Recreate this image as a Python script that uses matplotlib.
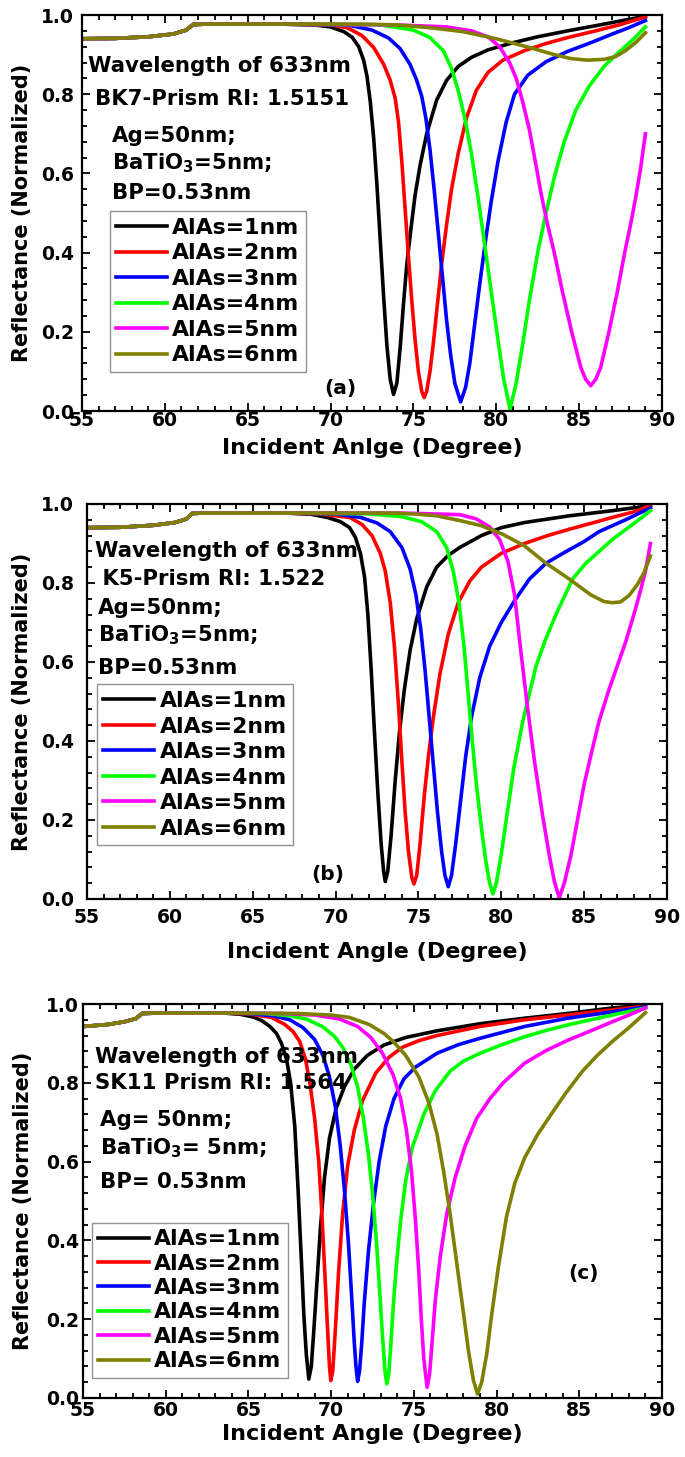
import matplotlib
matplotlib.use('Agg')
import matplotlib.pyplot as plt
from matplotlib.ticker import MultipleLocator, FormatStrFormatter

plt.rcParams['font.family'] = ['DejaVu Sans']
plt.rcParams['font.weight'] = 'bold'
plt.rcParams['axes.labelweight'] = 'bold'
plt.rcParams['mathtext.fontset'] = 'dejavusans'

# Legend labels and line colours
labels = ['AlAs=1nm', 'AlAs=2nm', 'AlAs=3nm', 'AlAs=4nm', 'AlAs=5nm', 'AlAs=6nm']
colors = ['#000000', '#ff0000', '#0000ff', '#00ff00', '#ff00ff', '#808000']

# ---------- panel (a): BK7 prism ----------
a_base_ang = [55, 57, 59, 60.5, 61.3, 61.7, 62.5, 65]
a_base_ref = [0.940, 0.941, 0.945, 0.952, 0.962, 0.976, 0.977, 0.977]

a1_ang = [67, 69, 70, 70.8, 71.3, 71.7, 72.0, 72.2, 72.4, 72.6, 72.8, 73.0, 73.2, 73.4, 73.6, 73.8, 74.0, 74.2, 74.4, 74.6, 74.85, 75.1, 75.4, 75.8, 76.4, 77.0, 77.7, 78.5, 79.5, 81.0, 82.5, 84.3, 86.0, 87.5, 89.0]
a1_ref = [0.977, 0.975, 0.970, 0.958, 0.944, 0.920, 0.885, 0.845, 0.780, 0.690, 0.570, 0.430, 0.290, 0.165, 0.080, 0.042, 0.070, 0.160, 0.270, 0.370, 0.460, 0.545, 0.620, 0.700, 0.785, 0.835, 0.870, 0.893, 0.912, 0.930, 0.945, 0.960, 0.973, 0.985, 0.997]
a2_ang = [67, 70, 71.0, 71.9, 72.6, 73.2, 73.6, 73.9, 74.1, 74.3, 74.5, 74.7, 74.9, 75.1, 75.3, 75.5, 75.65, 75.8, 76.0, 76.2, 76.45, 76.7, 77.0, 77.3, 77.7, 78.2, 78.8, 79.5, 80.4, 81.7, 83.0, 84.3, 86.0, 87.5, 89.0]
a2_ref = [0.977, 0.975, 0.968, 0.948, 0.918, 0.876, 0.835, 0.790, 0.730, 0.630, 0.510, 0.390, 0.280, 0.180, 0.100, 0.050, 0.034, 0.050, 0.100, 0.170, 0.270, 0.370, 0.470, 0.560, 0.650, 0.740, 0.810, 0.855, 0.886, 0.910, 0.928, 0.943, 0.960, 0.976, 0.995]
a3_ang = [67, 71, 72.5, 73.5, 74.2, 74.8, 75.2, 75.5, 75.75, 76.0, 76.25, 76.5, 76.75, 77.0, 77.25, 77.5, 77.85, 78.15, 78.4, 78.7, 79.0, 79.35, 79.7, 80.1, 80.6, 81.1, 81.9, 83.0, 84.3, 85.7, 87.0, 88.0, 89.0]
a3_ref = [0.977, 0.975, 0.962, 0.942, 0.915, 0.875, 0.835, 0.795, 0.740, 0.660, 0.560, 0.450, 0.340, 0.230, 0.140, 0.070, 0.023, 0.060, 0.120, 0.220, 0.320, 0.430, 0.530, 0.630, 0.730, 0.800, 0.848, 0.882, 0.908, 0.930, 0.952, 0.968, 0.986]
a4_ang = [67, 73, 75.0, 76.0, 76.8, 77.3, 77.7, 78.1, 78.5, 78.9, 79.3, 79.7, 80.1, 80.45, 80.83, 81.2, 81.6, 82.0, 82.5, 83.0, 83.5, 84.1, 84.8, 85.6, 86.5, 87.5, 88.3, 89.0]
a4_ref = [0.977, 0.975, 0.962, 0.943, 0.910, 0.865, 0.810, 0.740, 0.650, 0.540, 0.420, 0.300, 0.180, 0.080, 0.005, 0.070, 0.170, 0.280, 0.400, 0.500, 0.590, 0.680, 0.760, 0.820, 0.870, 0.910, 0.940, 0.970]
a5_ang = [67, 74, 77, 78.5, 79.5, 80.2, 80.8, 81.2, 81.6, 82.0, 82.4, 82.7, 83.1, 83.5, 84.0, 84.55, 85.1, 85.4, 85.7, 86.0, 86.3, 86.8, 87.3, 87.75, 88.1, 88.4, 88.7, 89.0]
a5_ref = [0.977, 0.975, 0.970, 0.960, 0.945, 0.920, 0.880, 0.840, 0.780, 0.710, 0.620, 0.550, 0.470, 0.400, 0.300, 0.200, 0.110, 0.080, 0.064, 0.080, 0.110, 0.200, 0.300, 0.400, 0.470, 0.536, 0.610, 0.700]
a6_ang = [67, 72, 74, 76, 78, 80, 82, 83.5, 84.5, 85.5, 86.5, 87.2, 87.8, 88.4, 89.0]
a6_ref = [0.977, 0.977, 0.975, 0.968, 0.958, 0.940, 0.918, 0.900, 0.890, 0.886, 0.888, 0.895, 0.910, 0.930, 0.955]

# ---------- panel (b): K5 prism ----------
b_base_ang = [55, 57, 59, 60.3, 61.0, 61.34, 62.0, 65.0]
b_base_ref = [0.940, 0.941, 0.946, 0.953, 0.962, 0.976, 0.977, 0.977]

b1_ang = [67, 68.5, 69.5, 70.3, 70.85, 71.2, 71.5, 71.75, 71.95, 72.15, 72.35, 72.55, 72.75, 72.9, 73.0, 73.15, 73.35, 73.6, 73.85, 74.15, 74.5, 74.9, 75.5, 76.1, 76.8, 77.5, 78.8, 80.0, 81.4, 84.1, 86.7, 89.0]
b1_ref = [0.977, 0.974, 0.966, 0.955, 0.940, 0.915, 0.875, 0.815, 0.720, 0.580, 0.420, 0.270, 0.140, 0.070, 0.044, 0.070, 0.160, 0.300, 0.420, 0.530, 0.630, 0.710, 0.790, 0.840, 0.870, 0.890, 0.920, 0.940, 0.953, 0.970, 0.983, 0.996]
b2_ang = [67, 69, 70.85, 71.6, 72.2, 72.7, 73.0, 73.3, 73.55, 73.8, 74.0, 74.2, 74.4, 74.6, 74.73, 74.9, 75.1, 75.35, 75.6, 75.9, 76.3, 76.8, 77.4, 78.1, 78.8, 80.0, 81.4, 82.8, 84.1, 85.5, 86.7, 88.0, 89.0]
b2_ref = [0.977, 0.975, 0.966, 0.948, 0.920, 0.875, 0.830, 0.750, 0.640, 0.490, 0.350, 0.220, 0.120, 0.055, 0.038, 0.060, 0.140, 0.260, 0.360, 0.460, 0.570, 0.670, 0.750, 0.805, 0.840, 0.875, 0.900, 0.920, 0.936, 0.952, 0.966, 0.980, 0.996]
b3_ang = [67, 70, 71.5, 72.5, 73.3, 74.0, 74.5, 74.85, 75.15, 75.4, 75.65, 75.9, 76.15, 76.4, 76.6, 76.8, 77.0, 77.25, 77.55, 77.85, 78.2, 78.7, 79.3, 80.0, 80.8, 81.7, 82.7, 83.8, 85.0, 85.9, 87.5, 89.0]
b3_ref = [0.977, 0.975, 0.966, 0.952, 0.930, 0.890, 0.835, 0.770, 0.680, 0.580, 0.460, 0.340, 0.220, 0.120, 0.060, 0.031, 0.060, 0.140, 0.250, 0.360, 0.460, 0.560, 0.640, 0.700, 0.755, 0.810, 0.850, 0.877, 0.905, 0.930, 0.960, 0.990]
b4_ang = [67, 72, 74, 75.2, 76.1, 76.7, 77.1, 77.45, 77.75, 78.0, 78.25, 78.5, 78.8, 79.05, 79.3, 79.5, 79.7, 79.95, 80.3, 80.75, 81.3, 82.1, 82.7, 83.3, 84.3, 85.1, 85.9, 86.7, 87.5, 88.3, 89.0]
b4_ref = [0.977, 0.975, 0.968, 0.955, 0.930, 0.890, 0.830, 0.750, 0.640, 0.520, 0.400, 0.290, 0.180, 0.100, 0.040, 0.013, 0.040, 0.100, 0.200, 0.330, 0.450, 0.590, 0.660, 0.720, 0.810, 0.850, 0.880, 0.910, 0.935, 0.960, 0.983]
b5_ang = [67, 74, 77.5, 78.5, 79.3, 79.9, 80.4, 80.8, 81.2, 81.6, 82.0, 82.5, 82.9, 83.2, 83.5, 83.8, 84.2, 84.6, 85.0, 85.5, 85.9, 86.5, 87.0, 87.5, 88.0, 88.4, 88.7, 89.0]
b5_ref = [0.977, 0.977, 0.973, 0.962, 0.942, 0.910, 0.855, 0.770, 0.620, 0.480, 0.350, 0.210, 0.110, 0.045, 0.003, 0.040, 0.110, 0.200, 0.290, 0.380, 0.450, 0.530, 0.590, 0.650, 0.720, 0.780, 0.830, 0.900]
b6_ang = [67, 73.5, 75, 76.1, 77.5, 78.8, 80.1, 81.4, 82.7, 84.1, 85.4, 86.2, 86.7, 87.2, 87.7, 88.2, 88.6, 89.0]
b6_ref = [0.977, 0.977, 0.974, 0.970, 0.958, 0.945, 0.923, 0.894, 0.850, 0.810, 0.770, 0.753, 0.750, 0.752, 0.768, 0.795, 0.825, 0.868]

# ---------- panel (c): SK11 prism ----------
c_base_ang = [55, 56.5, 57.5, 58.2, 58.57, 59.5, 62.0]
c_base_ref = [0.943, 0.948, 0.955, 0.963, 0.976, 0.977, 0.977]

c1_ang = [63.5, 64.5, 65.3, 65.8, 66.3, 66.7, 67.0, 67.3, 67.55, 67.8, 68.0, 68.2, 68.35, 68.5, 68.65, 68.8, 68.95, 69.15, 69.35, 69.6, 69.9, 70.3, 70.8, 71.4, 72.2, 73.2, 74.5, 76.4, 79.0, 81.7, 84.3, 87.0, 89.0]
c1_ref = [0.977, 0.974, 0.967, 0.958, 0.943, 0.925, 0.900, 0.860, 0.800, 0.690, 0.530, 0.350, 0.210, 0.110, 0.048, 0.080, 0.170, 0.300, 0.430, 0.560, 0.660, 0.735, 0.790, 0.835, 0.870, 0.896, 0.915, 0.932, 0.950, 0.964, 0.976, 0.990, 0.997]
c2_ang = [63.5, 65.0, 66.4, 67.2, 67.7, 68.1, 68.45, 68.75, 69.0, 69.25, 69.45, 69.65, 69.8, 69.9, 69.98, 70.1, 70.25, 70.45, 70.7, 71.0, 71.4, 71.9, 72.7, 73.5, 74.3, 75.3, 76.4, 79.0, 81.7, 84.3, 87.0, 89.0]
c2_ref = [0.977, 0.975, 0.966, 0.948, 0.930, 0.905, 0.860, 0.790, 0.710, 0.600, 0.460, 0.290, 0.160, 0.080, 0.044, 0.070, 0.170, 0.320, 0.470, 0.590, 0.680, 0.755, 0.825, 0.865, 0.890, 0.907, 0.920, 0.943, 0.960, 0.972, 0.985, 0.995]
c3_ang = [63.5, 65.0, 66.5, 67.5, 68.3, 69.0, 69.5, 69.9, 70.25, 70.55, 70.8, 71.05, 71.25, 71.4, 71.5, 71.6, 71.72, 71.85, 72.0, 72.25, 72.55, 72.9, 73.3, 73.8, 74.4, 75.1, 76.4, 77.7, 79.0, 81.7, 84.3, 87.0, 89.0]
c3_ref = [0.977, 0.976, 0.970, 0.960, 0.940, 0.910, 0.870, 0.815, 0.740, 0.640, 0.530, 0.390, 0.250, 0.140, 0.080, 0.042, 0.070, 0.140, 0.240, 0.370, 0.490, 0.600, 0.690, 0.760, 0.810, 0.840, 0.875, 0.897, 0.913, 0.943, 0.964, 0.980, 0.993]
c4_ang = [63.5, 66.0, 67.5, 68.5, 69.5, 70.2, 70.7, 71.2, 71.6, 71.95, 72.25, 72.5, 72.75, 72.95, 73.1, 73.25, 73.36, 73.48, 73.6, 73.75, 73.95, 74.2, 74.5, 74.9, 75.6, 76.3, 77.2, 78.0, 79.0, 80.4, 81.7, 83.0, 84.3, 85.7, 87.0, 89.0]
c4_ref = [0.977, 0.976, 0.970, 0.962, 0.942, 0.918, 0.890, 0.845, 0.790, 0.710, 0.620, 0.520, 0.390, 0.260, 0.160, 0.070, 0.036, 0.060, 0.130, 0.230, 0.340, 0.450, 0.550, 0.635, 0.720, 0.780, 0.830, 0.855, 0.875, 0.898, 0.917, 0.933, 0.947, 0.960, 0.972, 0.990]
c5_ang = [63.5, 67.0, 69.0, 70.5, 71.6, 72.4, 73.1, 73.75, 74.2, 74.55, 74.85, 75.1, 75.3, 75.45, 75.6, 75.8, 75.95, 76.1, 76.3, 76.6, 77.0, 77.5, 78.1, 78.8, 79.6, 80.4, 81.7, 83.0, 84.3, 85.7, 87.0, 88.0, 89.0]
c5_ref = [0.977, 0.976, 0.972, 0.962, 0.943, 0.915, 0.875, 0.820, 0.760, 0.680, 0.580, 0.450, 0.320, 0.200, 0.100, 0.027, 0.060, 0.140, 0.250, 0.360, 0.470, 0.560, 0.640, 0.710, 0.760, 0.800, 0.850, 0.882, 0.908, 0.932, 0.955, 0.972, 0.990]
c6_ang = [63.5, 68.0, 70.0, 71.1, 72.3, 73.2, 73.75, 74.5, 75.3, 75.9, 76.4, 76.8, 77.2, 77.6, 78.0, 78.3, 78.6, 78.85, 79.1, 79.4, 79.7, 80.1, 80.6, 81.1, 81.7, 82.5, 83.3, 84.2, 85.2, 86.1, 87.0, 88.0, 89.0]
c6_ref = [0.977, 0.976, 0.972, 0.966, 0.948, 0.925, 0.905, 0.870, 0.815, 0.750, 0.670, 0.575, 0.465, 0.340, 0.215, 0.120, 0.045, 0.010, 0.040, 0.110, 0.210, 0.330, 0.460, 0.545, 0.610, 0.670, 0.720, 0.775, 0.830, 0.870, 0.905, 0.940, 0.978]

# Annotation texts for each panel
a_notes = ['Wavelength of 633nm', 'BK7-Prism RI: 1.5151', 'Ag=50nm;', 'BaTiO$_\\mathbf{3}$=5nm;', 'BP=0.53nm']
b_notes = ['Wavelength of 633nm', ' K5-Prism RI: 1.522', 'Ag=50nm;', 'BaTiO$_\\mathbf{3}$=5nm;', 'BP=0.53nm']
c_notes = ['Wavelength of 633nm', 'SK11 Prism RI: 1.564', 'Ag= 50nm;', 'BaTiO$_\\mathbf{3}$= 5nm;', 'BP= 0.53nm']


def draw_panel(ax, base_ang, base_ref, curves, notes, note_pos, tag, tag_pos,
               leg_pos, leg_space, xlabel, pads):
    # pads = (x tick pad, x label pad, y tick pad, y label pad)
    # each curve = shared part before the kink + its own resonance dip
    for (ang, ref), col, lab in zip(curves, colors, labels):
        ax.plot(base_ang + ang, base_ref + ref, color=col, lw=2.6, label=lab)

    for txt, (x, y) in zip(notes, note_pos):
        ax.text(x, y, txt, transform=ax.transAxes, ha='left', va='center',
                fontsize=15.3, fontweight='bold')
    ax.text(tag_pos[0], tag_pos[1], tag, transform=ax.transAxes, ha='center',
            va='center', fontsize=14.5, fontweight='bold')

    leg = ax.legend(loc='upper left', bbox_to_anchor=leg_pos, fontsize=15.8,
                    frameon=True, fancybox=False, edgecolor='#777777',
                    handlelength=2.3, handletextpad=0.25, labelspacing=leg_space,
                    borderpad=0.3, borderaxespad=0)
    leg.get_frame().set_linewidth(1.0)

    ax.set_xlim(55, 90)
    ax.set_ylim(0, 1.0)
    ax.xaxis.set_major_locator(MultipleLocator(5))
    ax.xaxis.set_minor_locator(MultipleLocator(1))
    ax.yaxis.set_major_locator(MultipleLocator(0.2))
    ax.yaxis.set_minor_locator(MultipleLocator(0.04))
    ax.yaxis.set_major_formatter(FormatStrFormatter('%.1f'))
    ax.tick_params(which='both', direction='in', top=True, right=True,
                   labelsize=13.5, width=1.3)
    ax.tick_params(which='major', length=6)
    ax.tick_params(which='minor', length=3.5)
    ax.tick_params(axis='x', which='major', pad=pads[0])
    ax.tick_params(axis='y', which='major', pad=pads[2])
    for sp in ax.spines.values():
        sp.set_linewidth(1.6)
    ax.set_xlabel(xlabel, fontsize=16, labelpad=pads[1])
    ax.set_ylabel('Reflectance (Normalized)', fontsize=15, labelpad=pads[3])


fig = plt.figure(figsize=(6.85, 14.57), dpi=100)

ax_a = fig.add_axes([0.1197, 0.7179, 0.8467, 0.2718])
draw_panel(ax_a, a_base_ang, a_base_ref,
           [(a1_ang, a1_ref), (a2_ang, a2_ref), (a3_ang, a3_ref),
            (a4_ang, a4_ref), (a5_ang, a5_ref), (a6_ang, a6_ref)],
           a_notes, [(0.011, 0.871), (0.023, 0.789), (0.051, 0.695), (0.051, 0.627), (0.051, 0.55)],
           '(a)', (0.445, 0.057), (0.048, 0.504), 0.25, 'Incident Anlge (Degree)',
           (0, 5.5, 5.8, 6.2))

ax_b = fig.add_axes([0.1270, 0.3830, 0.8467, 0.2711])
draw_panel(ax_b, b_base_ang, b_base_ref,
           [(b1_ang, b1_ref), (b2_ang, b2_ref), (b3_ang, b3_ref),
            (b4_ang, b4_ref), (b5_ang, b5_ref), (b6_ang, b6_ref)],
           b_notes, [(0.014, 0.881), (0.014, 0.81), (0.019, 0.736), (0.019, 0.668), (0.019, 0.585)],
           '(b)', (0.415, 0.061), (0.017, 0.543), 0.25, 'Incident Angle (Degree)',
           (6.5, 11, 9.4, 6.2))

ax_c = fig.add_axes([0.1212, 0.0405, 0.8452, 0.2704])
draw_panel(ax_c, c_base_ang, c_base_ref,
           [(c1_ang, c1_ref), (c2_ang, c2_ref), (c3_ang, c3_ref),
            (c4_ang, c4_ref), (c5_ang, c5_ref), (c6_ang, c6_ref)],
           c_notes, [(0.021, 0.866), (0.021, 0.799), (0.029, 0.706), (0.029, 0.634), (0.029, 0.549)],
           '(c)', (0.864, 0.317), (0.015, 0.445), 0.2, 'Incident Angle (Degree)',
           (2, 3.3, 3, 9))

fig.savefig('out.png', dpi=100)
